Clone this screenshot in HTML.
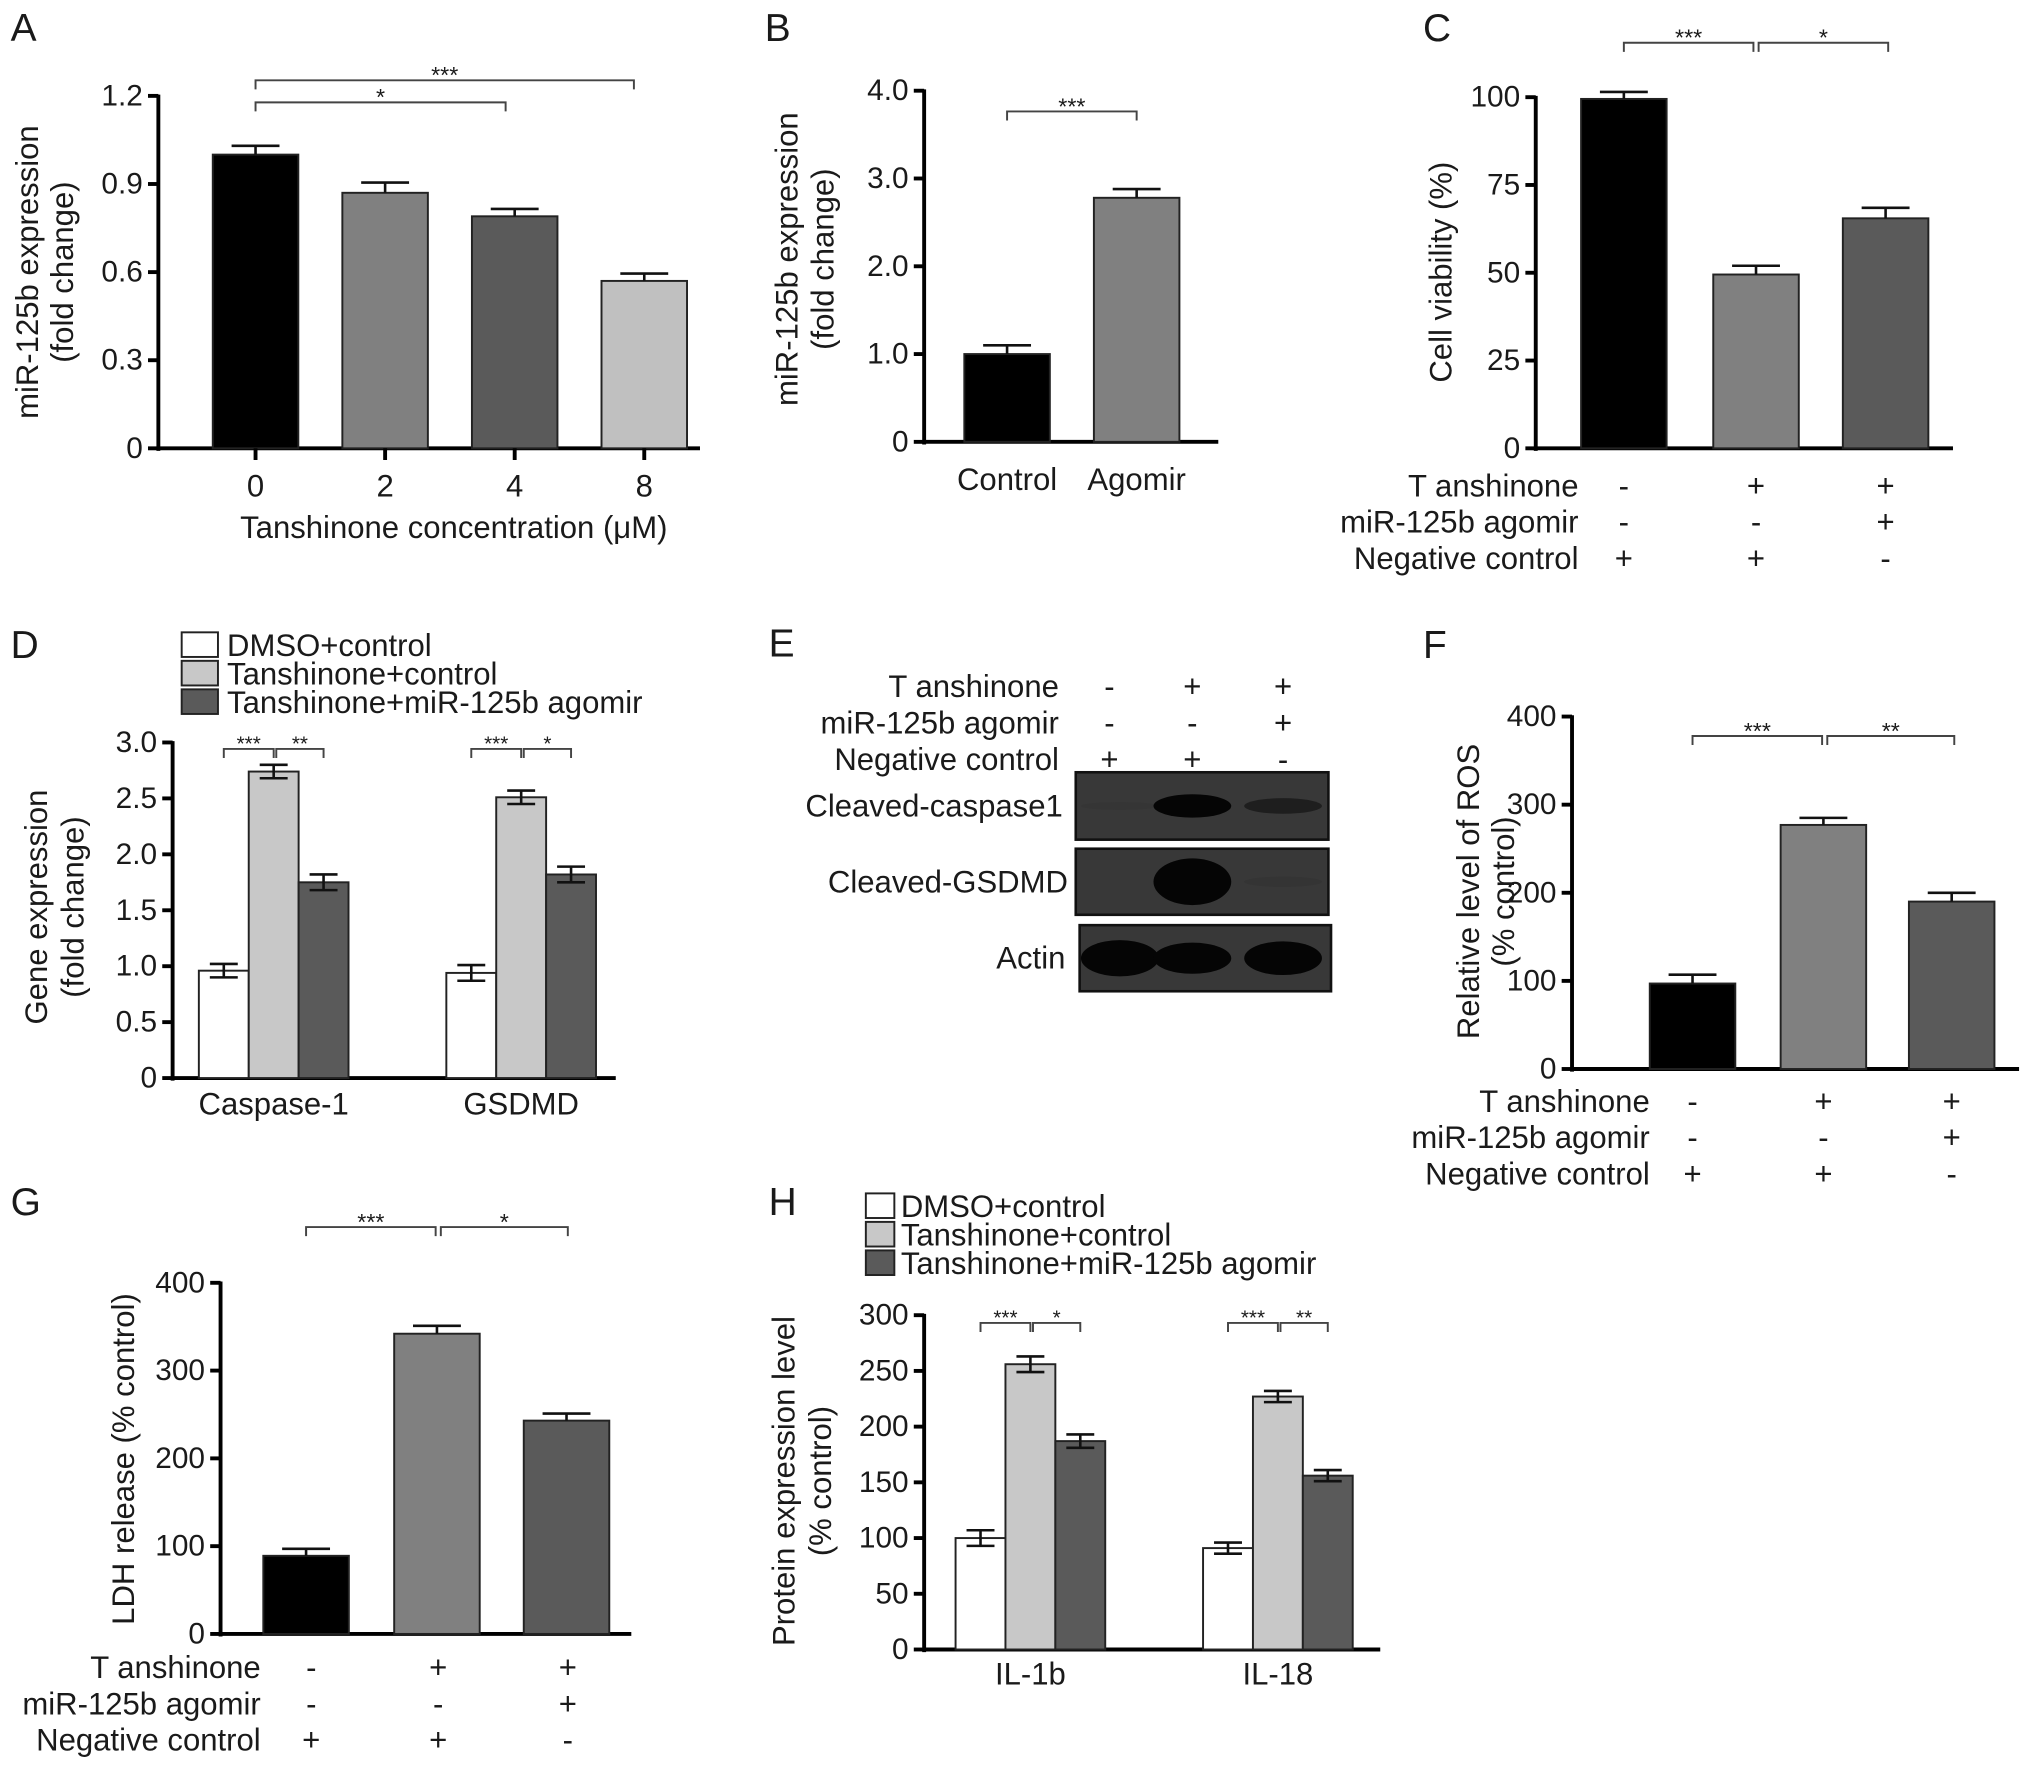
<!DOCTYPE html>
<html><head><meta charset="utf-8"><style>
html,body{margin:0;padding:0;background:#fff}
svg{display:block}
text{font-family:"Liberation Sans",Arial,sans-serif;fill:#1a1a1a}
</style></head><body>
<svg id="fig" xmlns="http://www.w3.org/2000/svg" width="2031" height="1770" viewBox="0 0 1567 1366"></svg>
<script>
// ---- data ----
const aCats=["0","2","4","8"];
const aVals=[1.0,0.87,0.79,0.57];
const aErrs=[0.03,0.035,0.025,0.025];
const aTicks=[0,0.3,0.6,0.9,1.2];
const bCats=["Control","Agomir"];
const bVals=[1.0,2.78];
const bErrs=[0.1,0.1];
const bTicks=[0,1.0,2.0,3.0,4.0];
const cVals=[99.5,49.5,65.5];
const cErrs=[2,2.5,3];
const cTicks=[0,25,50,75,100];
const dGroups=["Caspase-1","GSDMD"];
const dSeries=["DMSO+control","Tanshinone+control","Tanshinone+miR-125b agomir"];
const dVals=[[0.96,2.74,1.75],[0.94,2.51,1.82]];
const dErrs=[[0.06,0.06,0.07],[0.07,0.06,0.07]];
const dTicks=[0,0.5,1.0,1.5,2.0,2.5,3.0];
const fVals=[97,277,190];
const fErrs=[10,8,10];
const fTicks=[0,100,200,300,400];
const gVals=[89,342,243];
const gErrs=[8,9,8];
const gTicks=[0,100,200,300,400];
const hGroups=["IL-1b","IL-18"];
const hVals=[[100,256,187],[91,227,156]];
const hErrs=[[7,7,6],[5,5,5]];
const hTicks=[0,50,100,150,200,250,300];
const condRows=["T anshinone","miR-125b agomir","Negative control"];
const condSigns=[["-","+","+"],["-","-","+"],["+","+","-"]];

const NS="http://www.w3.org/2000/svg";
const svg=document.getElementById('fig');
const LS=24;
function el(tag,attrs,parent,txt){const e=document.createElementNS(NS,tag);for(const k in attrs)e.setAttribute(k,attrs[k]);if(txt!==undefined)e.textContent=txt;(parent||svg).appendChild(e);return e;}
function txt(x,y,s,size,anchor,parent,rot){const t=el('text',{x:x,y:y,'font-size':size,'text-anchor':anchor||'middle','dominant-baseline':'central'},parent,s);if(rot)t.setAttribute('transform','rotate(-90 '+x+' '+y+')');return t;}
function grp(name){const g=el('g',{});return g;}

function axes(g,ax,y0,yTop,xEnd,ticks,fmt){
  const max=ticks[ticks.length-1];
  const Y=v=>y0-(v/max)*(y0-yTop);
  const ya=el('line',{x1:ax,y1:Y(max)-1,x2:ax,y2:y0+2,stroke:'#000','stroke-width':3},g);
  
  const xa=el('line',{x1:ax-1,y1:y0,x2:xEnd,y2:y0,stroke:'#000','stroke-width':3},g);
  
  ticks.forEach(t=>{
    el('line',{x1:ax-8,y1:Y(t),x2:ax,y2:Y(t),stroke:'#000','stroke-width':3},g);
    const tl=txt(ax-12,Y(t),fmt(t),23,'end',g);
    
  });
  return Y;
}
function bar(g,cx,w,v,e,Y,y0,fill,name){
  const r=el('rect',{x:cx-w/2,y:Y(v),width:w,height:y0-Y(v),fill:fill,stroke:'#222','stroke-width':1.5},g);
  
  const eb=el('path',{d:`M${cx} ${Y(v)} V${Y(v+e)} M${cx-w*0.28} ${Y(v+e)} H${cx+w*0.28}`,stroke:'#111','stroke-width':2,fill:'none'},g);
  
}
function barBoth(g,cx,w,v,e,Y,y0,fill,name){
  bar(g,cx,w,v,e,Y,y0,fill,name);
  el('path',{d:`M${cx} ${Y(v)} V${Y(v-e)} M${cx-w*0.28} ${Y(v-e)} H${cx+w*0.28}`,stroke:'#111','stroke-width':2,fill:'none'},g);
}
function sig(g,x1,x2,y,s,size){
  const p=el('path',{d:`M${x1} ${y+7} V${y} H${x2} V${y+7}`,stroke:'#444','stroke-width':1.5,fill:'none'},g);
  
  txt((x1+x2)/2,y-4,s,size||18,'middle',g);
}
function panelLetter(x,y,s){const t=txt(x,y,s,30,'start');}
function conds(g,rx,y,dy,cols){
  condRows.forEach((r,i)=>{
    const t=txt(rx,y+i*dy,r,LS,'end',g);
    cols.forEach((cx,j)=>{txt(cx,y+i*dy,condSigns[i][j],LS,'middle',g);});
  });
}
const f1=t=>t===0?'0':t.toFixed(1);
const f0=t=>String(t);
const greys3=['#000','#808080','#5a5a5a'];

// Panel A
panelLetter(8,22,'A');
{const g=grp('panel-a-chart');
 const Y=axes(g,122,346,74,540,aTicks,f1);
 const cols=['#000','#808080','#5a5a5a','#c0c0c0'];
 aCats.forEach((c,i)=>{const cx=197+i*100;bar(g,cx,66,aVals[i],aErrs[i],Y,346,cols[i],'bar-'+c);
   el('line',{x1:cx,y1:346,x2:cx,y2:355,stroke:'#000','stroke-width':3},g);txt(cx,375,c,LS,'middle',g);});
 txt(350,407,'Tanshinone concentration (\u03bcM)',LS,'middle',g);
 txt(21,210,'miR-125b expression',LS,'middle',g,true);txt(48,210,'(fold change)',LS,'middle',g,true);
 sig(g,197,489,62,'***');sig(g,197,390,79,'*');}

// Panel B
panelLetter(590,22,'B');
{const g=grp('panel-b-chart');
 const Y=axes(g,713,341,70,940,bTicks,t=>t===0?'0':t.toFixed(1));
 const cols=['#000','#808080'];
 bCats.forEach((c,i)=>{const cx=777+i*100;bar(g,cx,66,bVals[i],bErrs[i],Y,341,cols[i],'bar-'+c.toLowerCase());txt(cx,370,c,LS,'middle',g);});
 txt(607,200,'miR-125b expression',LS,'middle',g,true);txt(635,200,'(fold change)',LS,'middle',g,true);
 sig(g,777,877,86,'***');}

// Panel C
panelLetter(1098,22,'C');
{const g=grp('panel-c-chart');
 const Y=axes(g,1185,346,75,1507,cTicks,f0);
 const cx=[1253,1355,1455];
 cVals.forEach((v,i)=>bar(g,cx[i],66,v,cErrs[i],Y,346,greys3[i],'bar-group-'+(i+1)));
 txt(1112,210,'Cell viability (%)',LS,'middle',g,true);
 sig(g,1253,1353,33,'***');sig(g,1357,1457,33,'*');
 conds(g,1218,375,28,cx);}

// Panel D
panelLetter(8,498,'D');
{const g=grp('panel-d-chart');
 const cols=['#fff','#c8c8c8','#5a5a5a'];
 dSeries.forEach((s,i)=>{const r=el('rect',{x:140,y:488+i*22,width:28,height:19,fill:cols[i],stroke:'#222','stroke-width':1.5},g);
   
   const t=txt(175,498+i*22,s,LS,'start',g);});
 const Y=axes(g,133,832,573,475,dTicks,f1);
 const gc=[211,402];
 dGroups.forEach((gn,gi)=>{dVals[gi].forEach((v,si)=>barBoth(g,gc[gi]+(si-1)*38.5,38.5,v,dErrs[gi][si],Y,832,cols[si],'bar-'+gn.toLowerCase()+'-'+(si+1)));
   txt(gc[gi],852,gn,LS,'middle',g);
   sig(g,gc[gi]-38.5,gc[gi],578,'***',16);sig(g,gc[gi]+2,gc[gi]+38.5,578,gi===0?'**':'*',16);});
 txt(28,700,'Gene expression',LS,'middle',g,true);txt(56,700,'(fold change)',LS,'middle',g,true);}

// Panel E
panelLetter(593,497,'E');
{const g=grp('panel-e-blot');
 conds(g,817,530,28,[856,920,990]);
 const boxes=[[830,596,195,52,'Cleaved-caspase1',820],[830,655,195,51,'Cleaved-GSDMD',824],[833,714,194,51,'Actin',822]];
 const bands=[[[0.25,3,'#2f2f2f'],[1,9,'#050505'],[0.7,6,'#141414']],[[0,0,'#2b2b2b'],[1,18,'#050505'],[0.1,4,'#2b2b2b']],[[1,14,'#050505'],[1,12,'#050505'],[1,13,'#050505']]];
 boxes.forEach((b,i)=>{const r=el('rect',{x:b[0],y:b[1],width:b[2],height:b[3],fill:'#383838',stroke:'#111','stroke-width':2},g);
   
   txt(b[5],b[1]+b[3]/2,b[4],LS,'end',g);
   [864,920,990].forEach((cx,j)=>{const bd=bands[i][j];if(bd[1]>0)el('ellipse',{cx:cx,cy:b[1]+b[3]/2,rx:30,ry:bd[1],fill:bd[2],opacity:Math.max(bd[0],0.3)},g);});});}

// Panel F
panelLetter(1098,498,'F');
{const g=grp('panel-f-chart');
 const Y=axes(g,1213,825,553,1558,fTicks,f0);
 const cx=[1306,1407,1506];
 fVals.forEach((v,i)=>bar(g,cx[i],66,v,fErrs[i],Y,825,greys3[i],'bar-group-'+(i+1)));
 txt(1133,688,'Relative level of ROS',LS,'middle',g,true);txt(1160,688,'(% control)',LS,'middle',g,true);
 sig(g,1306,1406,568,'***');sig(g,1410,1508,568,'**');
 conds(g,1273,850,28,cx);}

// Panel G
panelLetter(8,928,'G');
{const g=grp('panel-g-chart');
 const Y=axes(g,170,1261,990,487,gTicks,f0);
 const cx=[236,337,437];
 gVals.forEach((v,i)=>bar(g,cx[i],66,v,gErrs[i],Y,1261,greys3[i],'bar-group-'+(i+1)));
 txt(95,1126,'LDH release (% control)',LS,'middle',g,true);
 sig(g,236,336,947,'***');sig(g,340,438,947,'*');
 conds(g,201,1287,28,[240,338,438]);}

// Panel H
panelLetter(593,928,'H');
{const g=grp('panel-h-chart');
 const cols=['#fff','#c8c8c8','#5a5a5a'];
 dSeries.forEach((s,i)=>{const r=el('rect',{x:668,y:921+i*22,width:22,height:19,fill:cols[i],stroke:'#222','stroke-width':1.5},g);
   
   const t=txt(695,931+i*22,s,LS,'start',g);});
 const Y=axes(g,713,1273,1015,1065,hTicks,f0);
 const gc=[795,986];
 hGroups.forEach((gn,gi)=>{hVals[gi].forEach((v,si)=>barBoth(g,gc[gi]+(si-1)*38.5,38.5,v,hErrs[gi][si],Y,1273,cols[si],'bar-'+gn.toLowerCase()+'-'+(si+1)));
   txt(gc[gi],1292,gn,LS,'middle',g);
   sig(g,gc[gi]-38.5,gc[gi],1021,'***',16);sig(g,gc[gi]+2,gc[gi]+38.5,1021,gi===0?'*':'**',16);});
 txt(605,1143,'Protein expression level',LS,'middle',g,true);txt(633,1143,'(% control)',LS,'middle',g,true);}
</script>
</body></html>
